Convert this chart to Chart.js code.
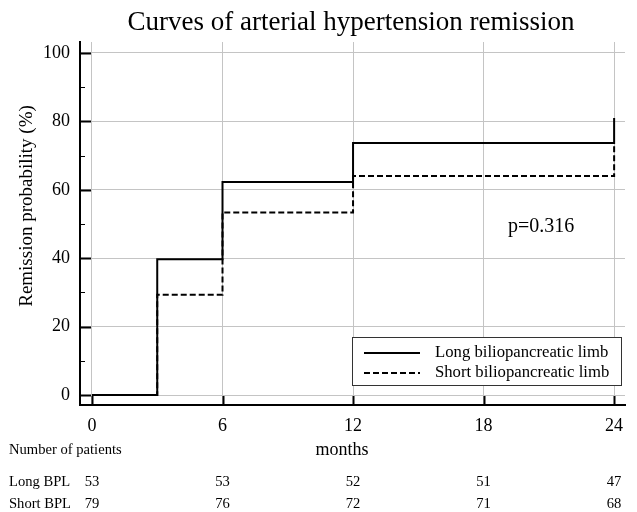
<!DOCTYPE html>
<html>
<head>
<meta charset="utf-8">
<script src="https://cdn.jsdelivr.net/npm/chart.js@4"></script>
<style>
  html, body { margin: 0; padding: 0; background: #fff; }
  #wrap { width: 637px; height: 512px; }
</style>
</head>
<body>
<div id="wrap"><canvas id="km-chart" width="637" height="512"></canvas></div>
<script>
// ---------------------------- Data ------------------------------------------ //
const event_months = [ 0, 3, 6, 12, 24 ];
const long_bpl = [ 0, 39.7, 62.3, 73.7, 81 ];
const short_bpl = [ 0, 29.3, 53.4, 64, 73.7 ];

const x_ticks = [ 0, 6, 12, 18, 24 ];
const y_ticks = [ 0, 20, 40, 60, 80, 100 ];
const y_minor = [ 10, 30, 50, 70, 90 ];

const risk_months = [ 0, 6, 12, 18, 24 ];
const risk_long = [ 53, 53, 52, 51, 47 ];
const risk_short = [ 79, 76, 72, 71, 68 ];
const risk_rows = [ "Long BPL", "Short BPL" ];

const series_names = [ "Long biliopancreatic limb", "Short biliopancreatic limb" ];
const p_label = "p=0.316";

const serif = "'Liberation Serif', 'DejaVu Serif', serif";

// ---------------------------- Drawing extras ------------------------------------------ //
const extras = {
    id: 'extras',
    afterDraw( chart ) {
        const ctx = chart.ctx;
        const xs = chart.scales.x;
        const ys = chart.scales.y;
        const area = chart.chartArea;
        ctx.save();
        ctx.fillStyle = '#000';
        ctx.strokeStyle = '#000';

        // title
        ctx.font = "27px " + serif;
        ctx.textAlign = 'center';
        ctx.textBaseline = 'alphabetic';
        ctx.fillText( "Curves of arterial hypertension remission", 351, 30 );

        // y axis title
        ctx.save();
        ctx.translate( 27, 206 );
        ctx.rotate( -Math.PI / 2 );
        ctx.font = "19px " + serif;
        ctx.textAlign = 'center';
        ctx.textBaseline = 'middle';
        ctx.fillText( "Remission probability (%)", 0, 0 );
        ctx.restore();

        // x axis title
        ctx.font = "18px " + serif;
        ctx.textAlign = 'center';
        ctx.textBaseline = 'middle';
        ctx.fillText( "months", 342, 450 );

        // inward tick marks
        ctx.lineWidth = 2;
        ctx.beginPath();
        y_ticks.forEach( v => {
            const py = Math.round( ys.getPixelForValue( v ) ) + 0.5;
            ctx.moveTo( area.left, py );
            ctx.lineTo( area.left + 11, py );
        } );
        x_ticks.forEach( v => {
            const px = Math.round( xs.getPixelForValue( v ) ) + 0.5;
            ctx.moveTo( px, area.bottom );
            ctx.lineTo( px, area.bottom - 9 );
        } );
        ctx.stroke();
        ctx.lineWidth = 1;
        ctx.beginPath();
        y_minor.forEach( v => {
            const py = Math.round( ys.getPixelForValue( v ) ) + 0.5;
            ctx.moveTo( area.left, py );
            ctx.lineTo( area.left + 5, py );
        } );
        ctx.stroke();

        // p value
        ctx.font = "20px " + serif;
        ctx.textAlign = 'left';
        ctx.textBaseline = 'middle';
        ctx.fillText( p_label, 508, 227 );

        // legend box
        ctx.fillStyle = '#fff';
        ctx.fillRect( 352, 337, 269, 48 );
        ctx.lineWidth = 1;
        ctx.strokeStyle = '#333';
        ctx.strokeRect( 352.5, 337.5, 269, 48 );
        ctx.strokeStyle = '#000';
        ctx.fillStyle = '#000';
        ctx.lineWidth = 2;
        chart.data.datasets.forEach( ( ds, i ) => {
            const ly = 353 + i * 20;
            ctx.setLineDash( ds.borderDash || [] );
            ctx.beginPath();
            ctx.moveTo( 364, ly );
            ctx.lineTo( 420, ly );
            ctx.stroke();
            ctx.setLineDash( [] );
            ctx.font = "16.7px " + serif;
            ctx.textAlign = 'left';
            ctx.textBaseline = 'middle';
            ctx.fillText( ds.label, 435, ly );
        } );

        // number at risk table
        ctx.font = "14.6px " + serif;
        ctx.textAlign = 'left';
        ctx.textBaseline = 'middle';
        ctx.fillText( "Number of patients", 9, 450 );
        ctx.fillText( risk_rows[ 0 ], 9, 482 );
        ctx.fillText( risk_rows[ 1 ], 9, 504 );
        ctx.textAlign = 'center';
        risk_months.forEach( ( m, i ) => {
            const px = xs.getPixelForValue( m );
            ctx.fillText( String( risk_long[ i ] ), px, 482 );
            ctx.fillText( String( risk_short[ i ] ), px, 504 );
        } );
        ctx.restore();
    }
};

// ---------------------------- Chart ------------------------------------------ //
const km_chart = new Chart( document.getElementById( "km-chart" ),
{
    type: 'line',
    data: {
        datasets: [
        {
            label: series_names[ 0 ],
            data: event_months.map( ( m, i ) => ( { x: m, y: long_bpl[ i ] } ) ),
            stepped: 'before',
            borderColor: '#000',
            borderWidth: 2,
            pointRadius: 0,
            fill: false
        },
        {
            label: series_names[ 1 ],
            data: event_months.map( ( m, i ) => ( { x: m, y: short_bpl[ i ] } ) ),
            stepped: 'before',
            borderColor: '#000',
            borderWidth: 2,
            borderDash: [ 6, 3 ],
            pointRadius: 0,
            fill: false
        } ]
    },
    options: {
        responsive: false,
        animation: false,
        layout: {
            padding: { top: 42, right: 12, left: 0, bottom: 0 }
        },
        plugins: {
            legend: { display: false },
            title: { display: false },
            tooltip: { enabled: false }
        },
        scales: {
            x: {
                type: 'linear',
                min: -0.55,
                max: 24.5,
                afterBuildTicks: ( scale ) => { scale.ticks = x_ticks.map( v => ( { value: v } ) ); },
                afterFit: ( scale ) => { scale.height = 107; },
                grid: { color: '#c4c4c4', lineWidth: 1, drawTicks: false },
                border: { color: '#000', width: 2 },
                ticks: {
                    color: '#000',
                    padding: 10,
                    maxRotation: 0,
                    font: { family: serif, size: 18 }
                }
            },
            y: {
                min: -2.9,
                max: 103.2,
                afterBuildTicks: ( scale ) => { scale.ticks = y_ticks.map( v => ( { value: v } ) ); },
                afterFit: ( scale ) => { scale.width = 80; },
                grid: { color: '#c4c4c4', lineWidth: 1, drawTicks: false },
                border: { color: '#000', width: 2 },
                ticks: {
                    color: '#000',
                    padding: 10,
                    font: { family: serif, size: 18 }
                }
            }
        }
    },
    plugins: [ extras ]
} );
</script>
</body>
</html>
